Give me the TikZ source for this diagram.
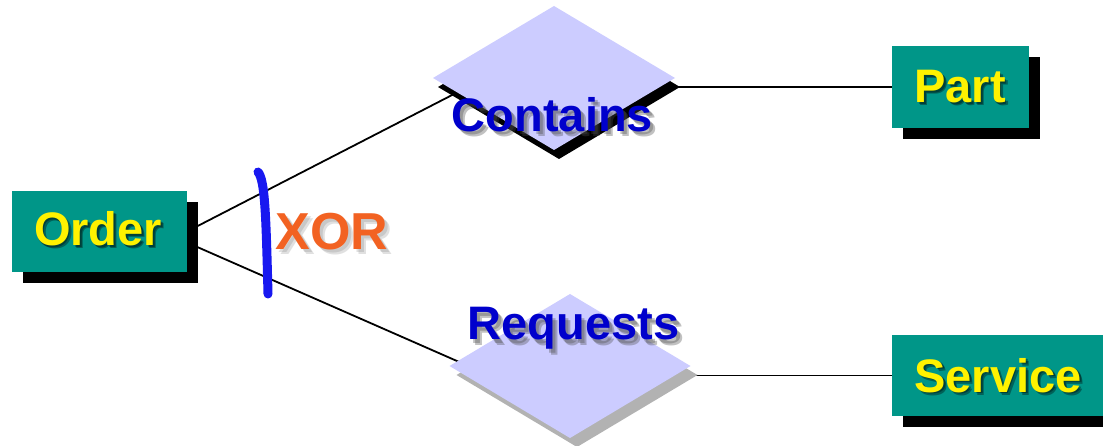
\documentclass[tikz,border=0pt]{standalone}
\usepackage{fontspec}
\setmainfont{Liberation Sans}
\usetikzlibrary{shapes.geometric,calc,backgrounds}

\definecolor{entityfill}{RGB}{0,150,136}
\definecolor{relfill}{RGB}{204,204,255}
\definecolor{reltext}{RGB}{0,0,204}
\definecolor{xortext}{RGB}{242,98,34}
\definecolor{xorarc}{RGB}{24,24,240}
\definecolor{softshadow}{RGB}{178,178,178}

\tikzset{
  entity/.style={rectangle, fill=entityfill, inner sep=0pt, outer sep=0pt},
  entshadow/.style={rectangle, fill=black, inner sep=0pt, outer sep=0pt},
  relship/.style={diamond, fill=relfill, inner sep=0pt, outer sep=0pt},
  lbl/.style={anchor=base, inner sep=0pt, outer sep=0pt,
              font=\fontsize{47}{52}\selectfont\bfseries},
  xorlbl/.style={anchor=base, inner sep=0pt, outer sep=0pt,
              font=\fontsize{52}{56}\selectfont\bfseries},
  txtshadow/.style={opacity=0.35},
  link/.style={line width=1.8pt, black},
}

\begin{document}
\begin{tikzpicture}[x=1pt,y=-1pt]
\useasboundingbox (0,0) rectangle (1103,446);

% drop shadows of the entity boxes and relationship diamonds
\node[entshadow, minimum width=175pt, minimum height=81pt] (ordS) at (110.5,242.5) {};
\node[entshadow, minimum width=137pt, minimum height=82pt] (prtS) at (971.5,98) {};
\node[entshadow, minimum width=212pt, minimum height=81pt] (srvS) at (1009,386.5) {};
\node[relship, fill=black, minimum width=242pt, minimum height=144pt] (conS) at (559,87) {};
\node[relship, fill=softshadow, minimum width=241pt, minimum height=144pt] (reqS) at (577,375) {};

% entities
\node[entity, minimum width=175pt, minimum height=81pt] (ord) at (99.5,231.5) {};
\node[entity, minimum width=137pt, minimum height=82pt] (prt) at (960.5,87) {};
\node[entity, minimum width=212pt, minimum height=81pt] (srv) at (998,375.5) {};

% relationships
\node[relship, minimum width=242pt, minimum height=144pt] (con) at (554,78) {};
\node[relship, minimum width=241pt, minimum height=144pt] (req) at (570,366) {};

% connectors, behind all shapes
\begin{scope}[on background layer]
  \draw[link] (ord.east) -- ($(con.west)!0.2!(con.south)$);
  \draw[link] ($(ord.east)+(0,11)$) -- ($(req.west)+(12,-3)$);
  \draw[link] (prt.west) -- (con.center |- prt.west);
  \draw[link] (srv.west) -- (req.center |- srv.west);
\end{scope}

% exclusive-or arc
\coordinate (arcTop) at (258,172);
\coordinate (arcBot) at (268,294);
\draw[xorarc, line width=9pt, line cap=round]
  (arcTop) .. controls (265,180) and (266,215) .. (arcBot);

% labels with soft shadows
\foreach \d in {1.8,3} {
  \node[lbl, txtshadow, text=black] at (98+\d,246+\d) {Order};
  \node[lbl, txtshadow, text=black] at (960+\d,103+\d) {Part};
  \node[lbl, txtshadow, text=black] at (998+\d,392+\d) {Service};
}
\foreach \d in {3,5} {
  \node[lbl, txtshadow, text=black!70] at (552.5+\d,132+\d) {Contains};
  \node[lbl, txtshadow, text=black!70] at (573.5+\d,340+\d) {Requests};
  \node[xorlbl, opacity=0.2, text=black!60] at (332+\d,250+\d) {XOR};
}
\node[lbl, text=yellow] (ordT) at (98,246) {Order};
\node[lbl, text=yellow] (prtT) at (960,103) {Part};
\node[lbl, text=yellow] (srvT) at (998,392) {Service};
\node[lbl, text=reltext] (conT) at (552.5,132) {Contains};
\node[lbl, text=reltext] (reqT) at (573.5,340) {Requests};
\node[xorlbl, text=xortext] (xorT) at (332,250) {XOR};
\end{tikzpicture}
\end{document}
